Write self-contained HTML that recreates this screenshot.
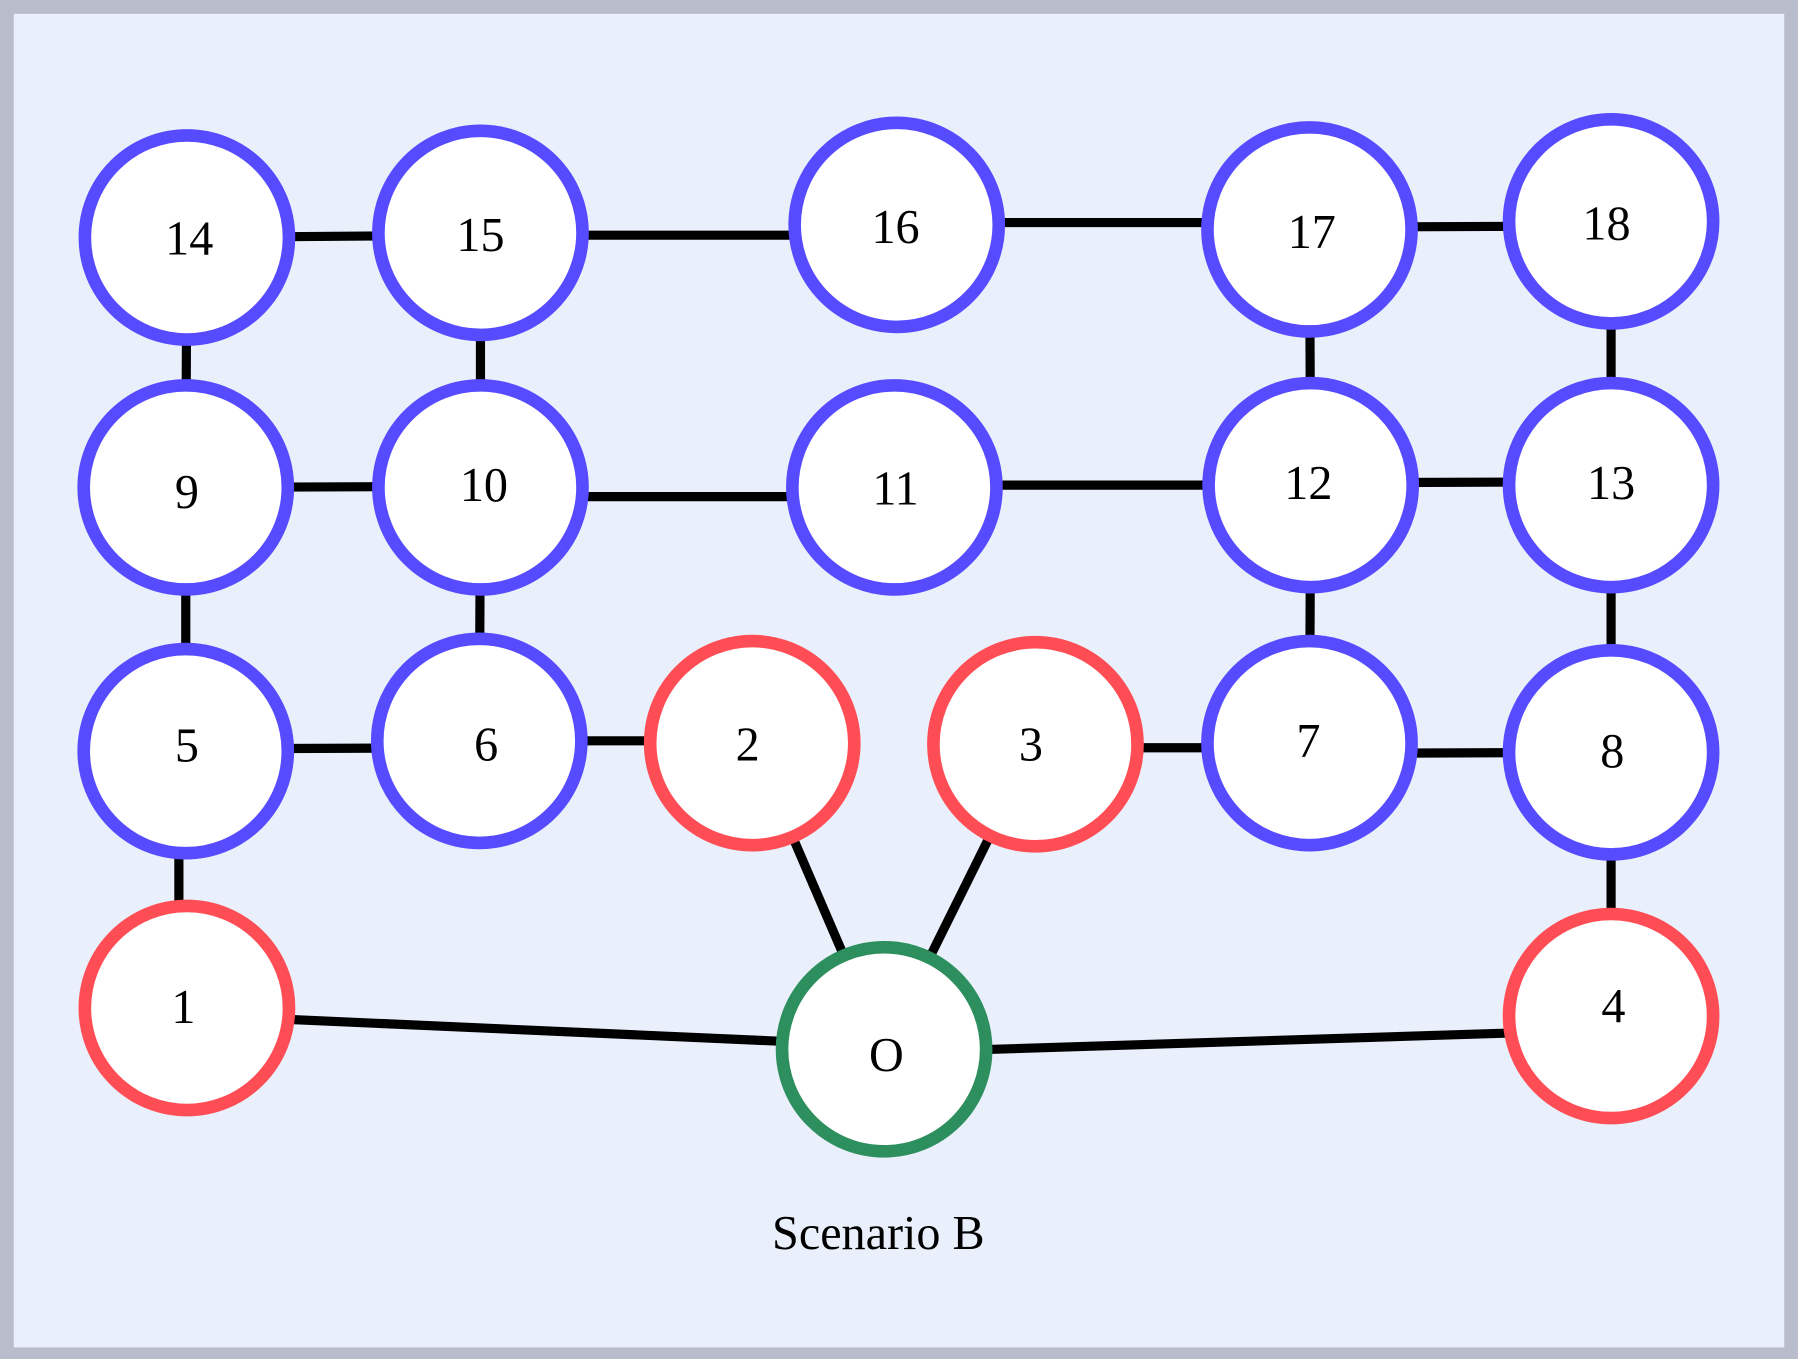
<!DOCTYPE html>
<html><head><meta charset="utf-8"><style>
html,body{margin:0;padding:0;background:#b8bccb;}
svg{display:block;}
</style></head><body>
<svg width="1798" height="1359" viewBox="0 0 1568 1185" xmlns="http://www.w3.org/2000/svg">
<rect x="0" y="0" width="1568" height="1185" fill="#b8bccb"/>
<rect x="12" y="12" width="1544" height="1163" fill="#e9f0fc"/>
<g stroke="#000" stroke-width="8">
<line x1="163" y1="207" x2="419" y2="205"/>
<line x1="419" y1="205" x2="782" y2="205"/>
<line x1="782" y1="194" x2="1142" y2="194"/>
<line x1="1142" y1="198" x2="1405" y2="197"/>
<line x1="163" y1="207" x2="162" y2="425"/>
<line x1="419" y1="203" x2="419" y2="425"/>
<line x1="1142" y1="200" x2="1143" y2="423"/>
<line x1="1405" y1="193" x2="1405" y2="423"/>
<line x1="162" y1="425" x2="419" y2="424"/>
<line x1="419" y1="433" x2="780" y2="433"/>
<line x1="780" y1="423" x2="1143" y2="423"/>
<line x1="1143" y1="421" x2="1405" y2="420"/>
<line x1="162" y1="425" x2="162" y2="655"/>
<line x1="419" y1="425" x2="418" y2="646"/>
<line x1="1143" y1="423" x2="1142" y2="648"/>
<line x1="1405" y1="423" x2="1405" y2="656"/>
<line x1="162" y1="653" x2="418" y2="652"/>
<line x1="418" y1="646" x2="656" y2="646"/>
<line x1="903" y1="652" x2="1142" y2="652"/>
<line x1="1142" y1="657" x2="1405" y2="656"/>
<line x1="156" y1="655" x2="156" y2="879"/>
<line x1="1405" y1="656" x2="1405" y2="886"/>
<line x1="163" y1="885" x2="771" y2="912"/>
<line x1="656" y1="648" x2="771" y2="915"/>
<line x1="903" y1="649" x2="771" y2="915"/>
<line x1="771" y1="918" x2="1405" y2="898"/>
</g>
<g fill="#fff" stroke-width="11">
<g stroke="#574bff">
<circle cx="163" cy="207" r="89"/>
<circle cx="419" cy="203" r="89"/>
<circle cx="782" cy="196" r="89"/>
<circle cx="1142" cy="200" r="89"/>
<circle cx="1405" cy="193" r="89"/>
<circle cx="162" cy="425" r="89"/>
<circle cx="419" cy="425" r="89"/>
<circle cx="780" cy="425" r="89"/>
<circle cx="1143" cy="423" r="89"/>
<circle cx="1405" cy="423" r="89"/>
<circle cx="162" cy="655" r="89"/>
<circle cx="418" cy="646" r="89"/>
<circle cx="1142" cy="648" r="89"/>
<circle cx="1405" cy="656" r="89"/>
</g>
<g stroke="#ff4d55">
<circle cx="656" cy="648" r="89"/>
<circle cx="903" cy="649" r="89"/>
<circle cx="163" cy="879" r="89"/>
<circle cx="1405" cy="886" r="89"/>
</g>
<circle cx="771" cy="915" r="89" stroke="#2e8f5e"/>
</g>
<g font-family="Liberation Serif, serif" font-size="42" text-anchor="middle" fill="#000">
<text x="165" y="222">14</text>
<text x="419" y="219">15</text>
<text x="781" y="212">16</text>
<text x="1144" y="216">17</text>
<text x="1401" y="209">18</text>
<text x="163" y="443">9</text>
<text x="422" y="437">10</text>
<text x="781" y="440">11</text>
<text x="1141" y="435">12</text>
<text x="1405" y="435">13</text>
<text x="163" y="664">5</text>
<text x="424" y="663">6</text>
<text x="652" y="663">2</text>
<text x="899" y="663">3</text>
<text x="1141" y="660">7</text>
<text x="1406" y="669">8</text>
<text x="160" y="892">1</text>
<text x="1407" y="891">4</text>
<text x="773" y="934">O</text>
<text x="766" y="1089">Scenario B</text>
</g>
</svg>
</body></html>
